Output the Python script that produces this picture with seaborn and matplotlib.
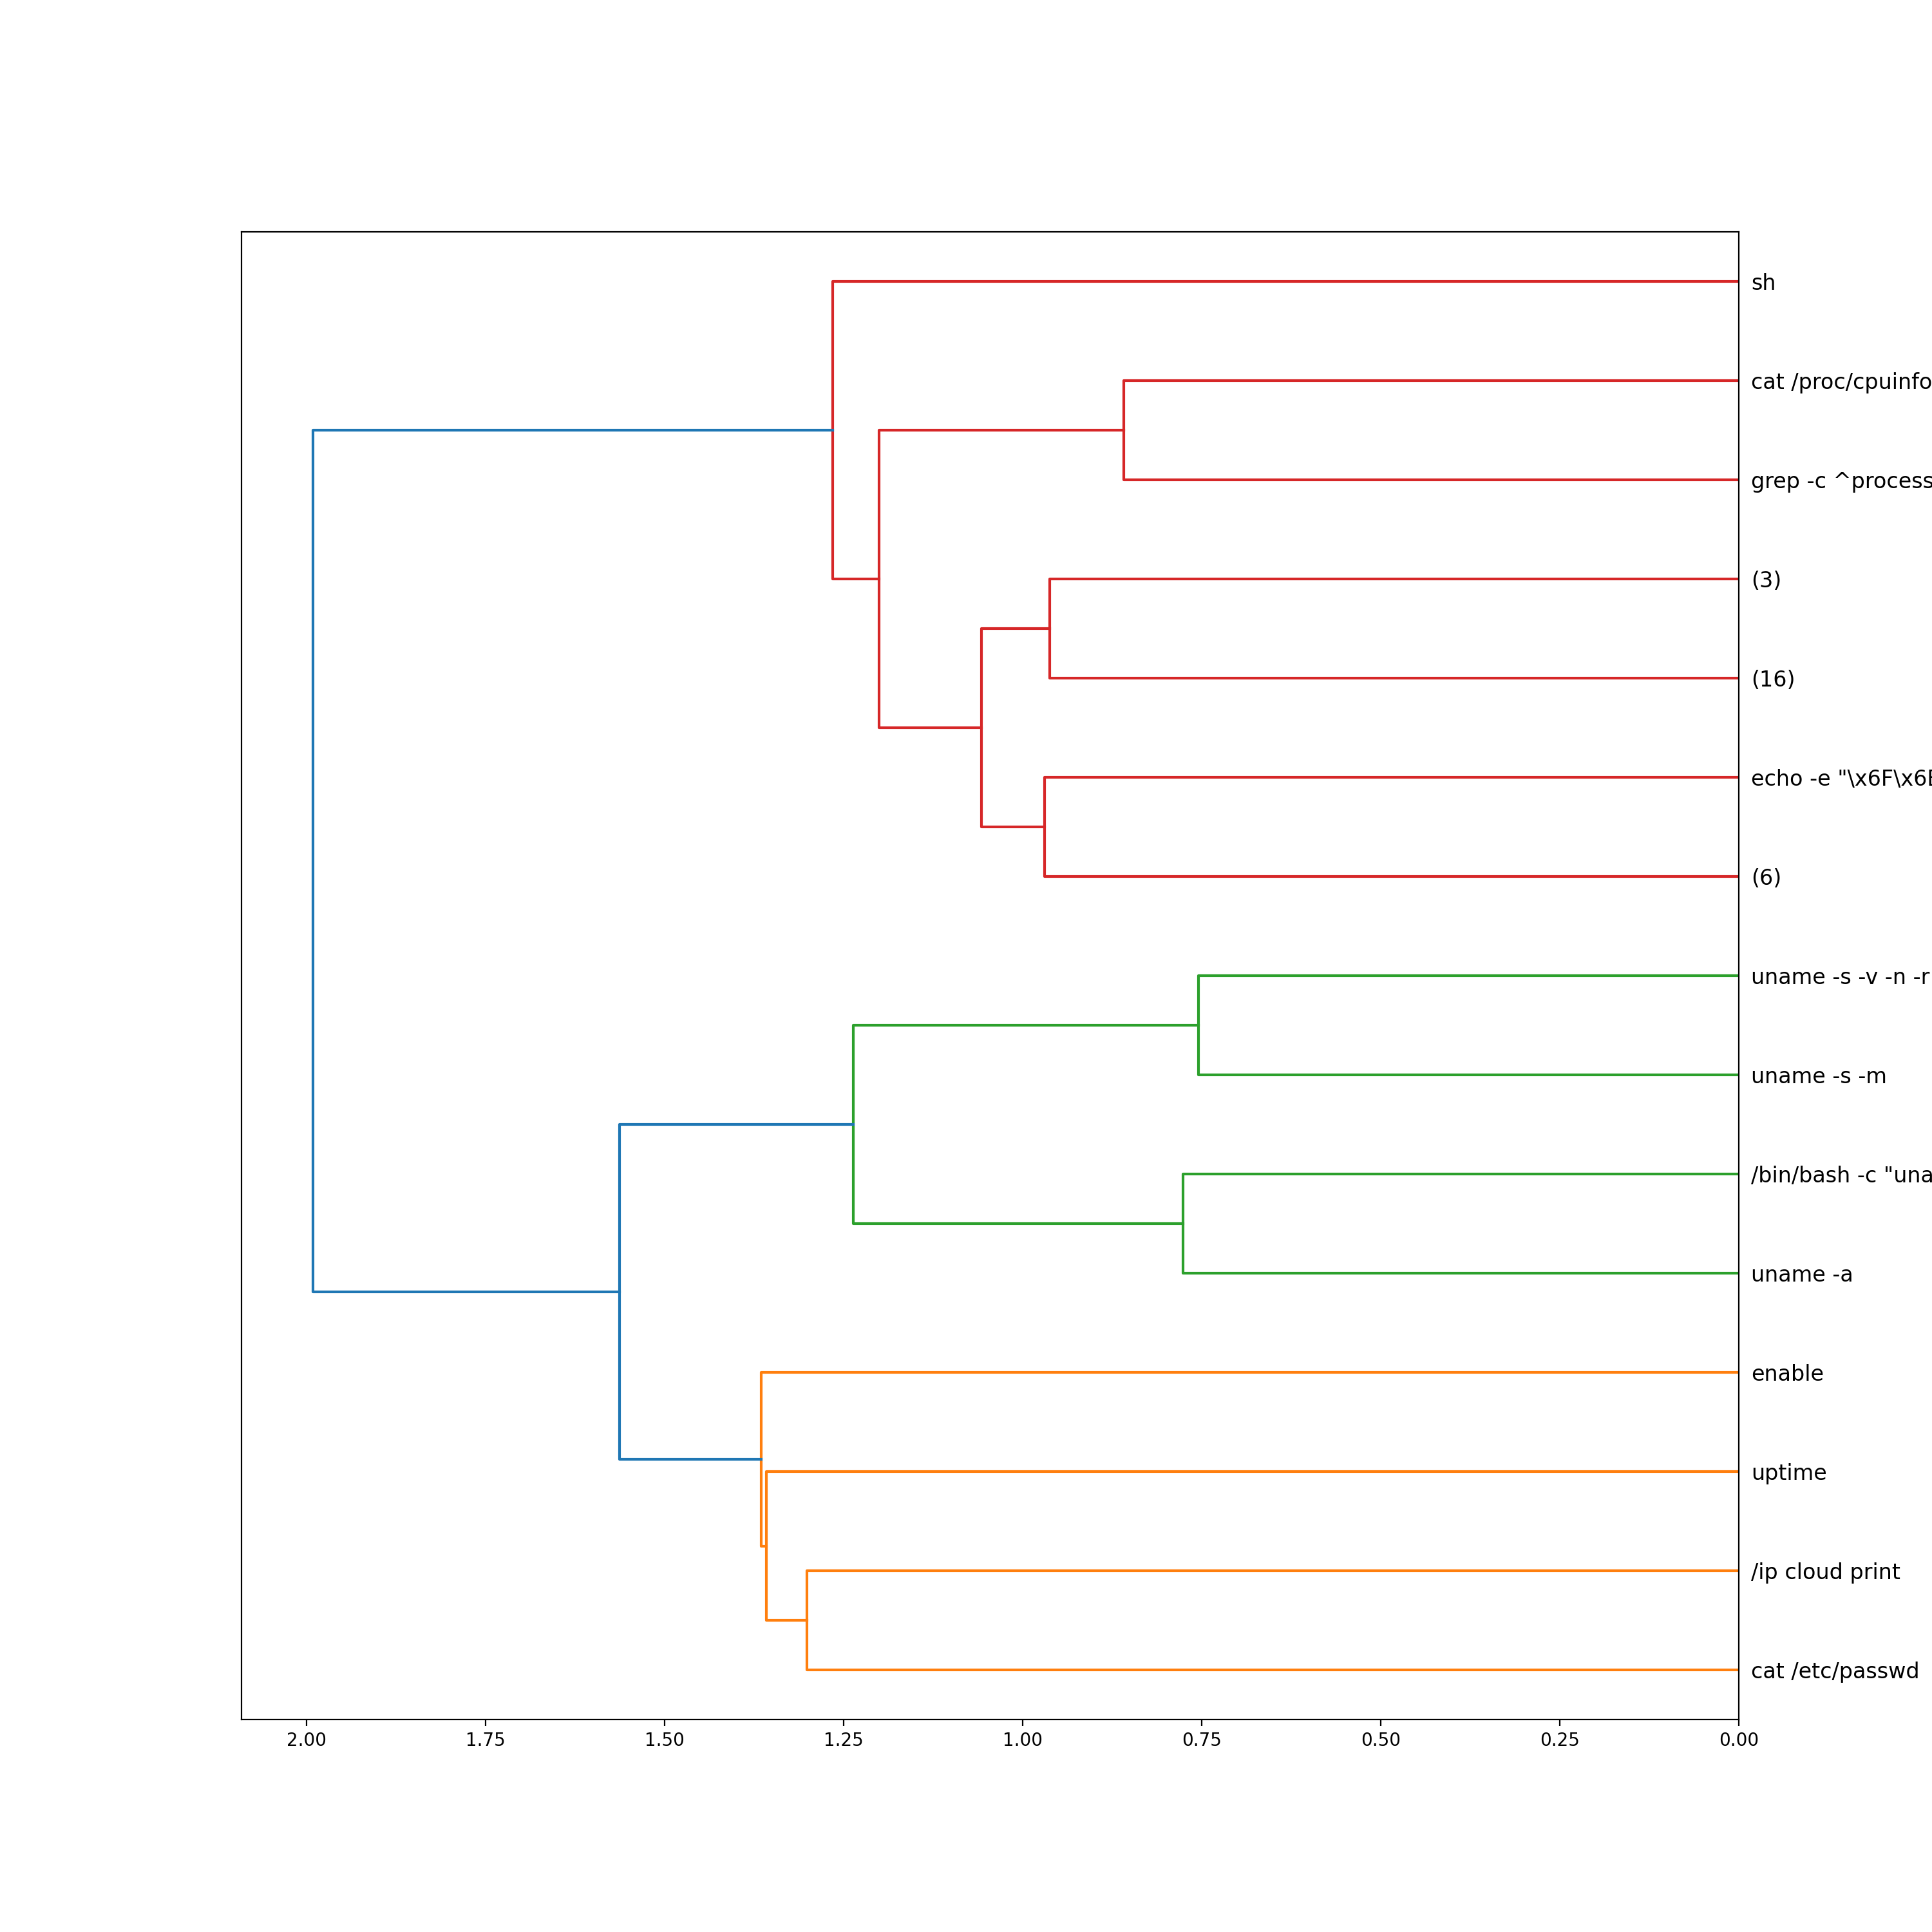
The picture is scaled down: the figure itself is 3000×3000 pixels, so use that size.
import numpy as np
import pandas as pd
import matplotlib
matplotlib.use("Agg")
import matplotlib.pyplot as plt
import seaborn as sns

# Leaf labels in dendrogram order (bottom to top)
leaf_labels = [
    "cat /etc/passwd",
    "/ip cloud print",
    "uptime",
    "enable",
    "uname -a",
    '/bin/bash -c "uname -a"',
    "uname -s -m",
    "uname -s -v -n -r -m",
    "(6)",
    'echo -e "\\x6F\\x6B"',
    "(16)",
    "(3)",
    "grep -c ^processor /proc/cpuinfo",
    "cat /proc/cpuinfo | grep name | wc -l",
    "sh",
]

# Linkage (scipy-style): left child, right child, distance
link_left = [6, 4, 12, 10, 8, 19, 20, 16, 21, 0, 24, 25, 26, 27]
link_right = [7, 5, 13, 11, 9, 18, 17, 15, 14, 1, 2, 3, 22, 23]
link_dist = [0.754, 0.776, 0.859, 0.962, 0.969, 1.057, 1.200, 1.236,
             1.265, 1.301, 1.358, 1.365, 1.563, 1.991]

cluster_colors = ["C1", "C2", "C3", "C4", "C5"]
above_color = "C0"

n = len(leaf_labels)
max_d = max(link_dist)
thresh = 0.7 * max_d

children = {n + k: (link_left[k], link_right[k]) for k in range(len(link_dist))}
dist = {n + k: link_dist[k] for k in range(len(link_dist))}
root = n + len(link_dist) - 1

# layout
pos = {}
leaf_order = []


def layout(node):
    if node < n:
        pos[node] = 5.0 + 10.0 * len(leaf_order)
        leaf_order.append(node)
        return pos[node]
    a, b = children[node]
    pa = layout(a)
    pb = layout(b)
    pos[node] = (pa + pb) / 2.0
    return pos[node]


layout(root)

# color assignment like scipy
node_color = {}
color_idx = [0]


def assign(node, inherited):
    if node < n:
        return
    if inherited is None and dist[node] < thresh:
        inherited = cluster_colors[color_idx[0] % len(cluster_colors)]
        color_idx[0] += 1
    node_color[node] = inherited if inherited is not None else above_color
    a, b = children[node]
    assign(a, inherited)
    assign(b, inherited)


assign(root, None)

rows = []
for node in children:
    a, b = children[node]
    ha = dist.get(a, 0.0)
    hb = dist.get(b, 0.0)
    h = dist[node]
    pts = [(ha, pos[a]), (h, pos[a]), (h, pos[b]), (hb, pos[b])]
    for k, (dx, iy) in enumerate(pts):
        rows.append({"link": node, "order": k, "d": dx, "i": iy,
                     "color": node_color[node]})
df = pd.DataFrame(rows)

fig, ax = plt.subplots(figsize=(15, 15), dpi=200)
palette = {c: c for c in df["color"].unique()}
sns.lineplot(data=df, x="d", y="i", units="link", estimator=None, sort=False,
             hue="color", palette=palette, legend=False, linewidth=1.5, ax=ax)

ax.set_xlim(max_d * 1.05, 0)
ax.set_ylim(0, 10 * n)
ax.set_xlabel("")
ax.set_ylabel("")
ax.yaxis.set_ticks_position("right")
ax.set_yticks([5 + 10 * k for k in range(n)])
ax.set_yticklabels([leaf_labels[i] for i in leaf_order], fontsize=12)
for line in ax.get_yticklines():
    line.set_visible(False)
ax.set_xticks([0.0, 0.25, 0.5, 0.75, 1.0, 1.25, 1.5, 1.75, 2.0])

fig.savefig("out.png", dpi=200)
